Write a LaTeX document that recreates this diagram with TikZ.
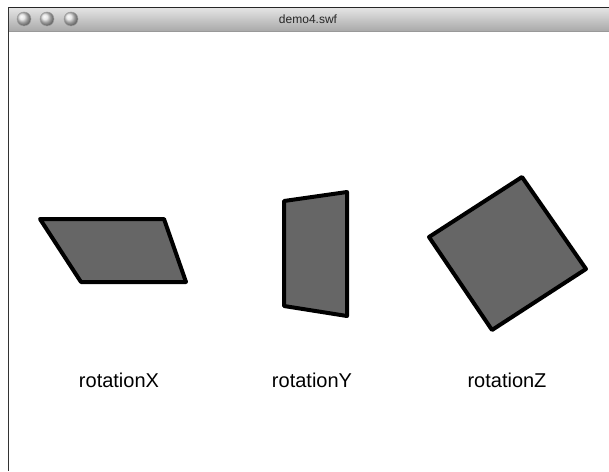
\documentclass[tikz,border=0pt]{standalone}
\usepackage{fontspec}
\setmainfont{Liberation Sans}
\definecolor{shapefill}{HTML}{666666}
\definecolor{bartop}{HTML}{E6E6E6}
\definecolor{barbot}{HTML}{A9A9A9}
\begin{document}
\begin{tikzpicture}[x=1pt,y=-1pt,
  flat/.style={draw=black,line width=4pt,line join=round,fill=shapefill},
  lbl/.style={font=\fontsize{20}{22}\selectfont,inner sep=0pt},
  btn/.style={circle,minimum size=14pt,inner sep=0pt,shading=ball,ball color=gray!25,draw=gray!75,line width=0.5pt}]
\useasboundingbox (0,0) rectangle (609,471);
\fill[white] (0,0) rectangle (609,471);
% title bar
\shade[top color=bartop,bottom color=barbot] (8,7) rectangle (609,31);
\draw[black!85,line width=1.2pt] (8,7.5) -- (609,7.5);
\draw[gray!80,line width=0.8pt] (8,31) -- (609,31);
\draw[black!80,line width=1.5pt] (8.5,7) -- (8.5,471);
\node[btn] (b1) at (24,19) {};
\node[btn] (b2) at (47,19) {};
\node[btn] (b3) at (71,19) {};
\node[font=\fontsize{12}{14}\selectfont,text=black!85] (title) at (308,19) {demo4.swf};
% shapes
\draw[flat] (40,219) -- (164,219) -- (186,282) -- (81,282) -- cycle;
\draw[flat] (284,201) -- (347,192) -- (347,316) -- (284,306) -- cycle;
\draw[flat] (522,177) -- (586,269) -- (492,330) -- (429,237) -- cycle;
% labels
\node[lbl] (lx) at (119,380) {rotationX};
\node[lbl] (ly) at (312,380) {rotationY};
\node[lbl] (lz) at (507,380) {rotationZ};
\end{tikzpicture}
\end{document}
